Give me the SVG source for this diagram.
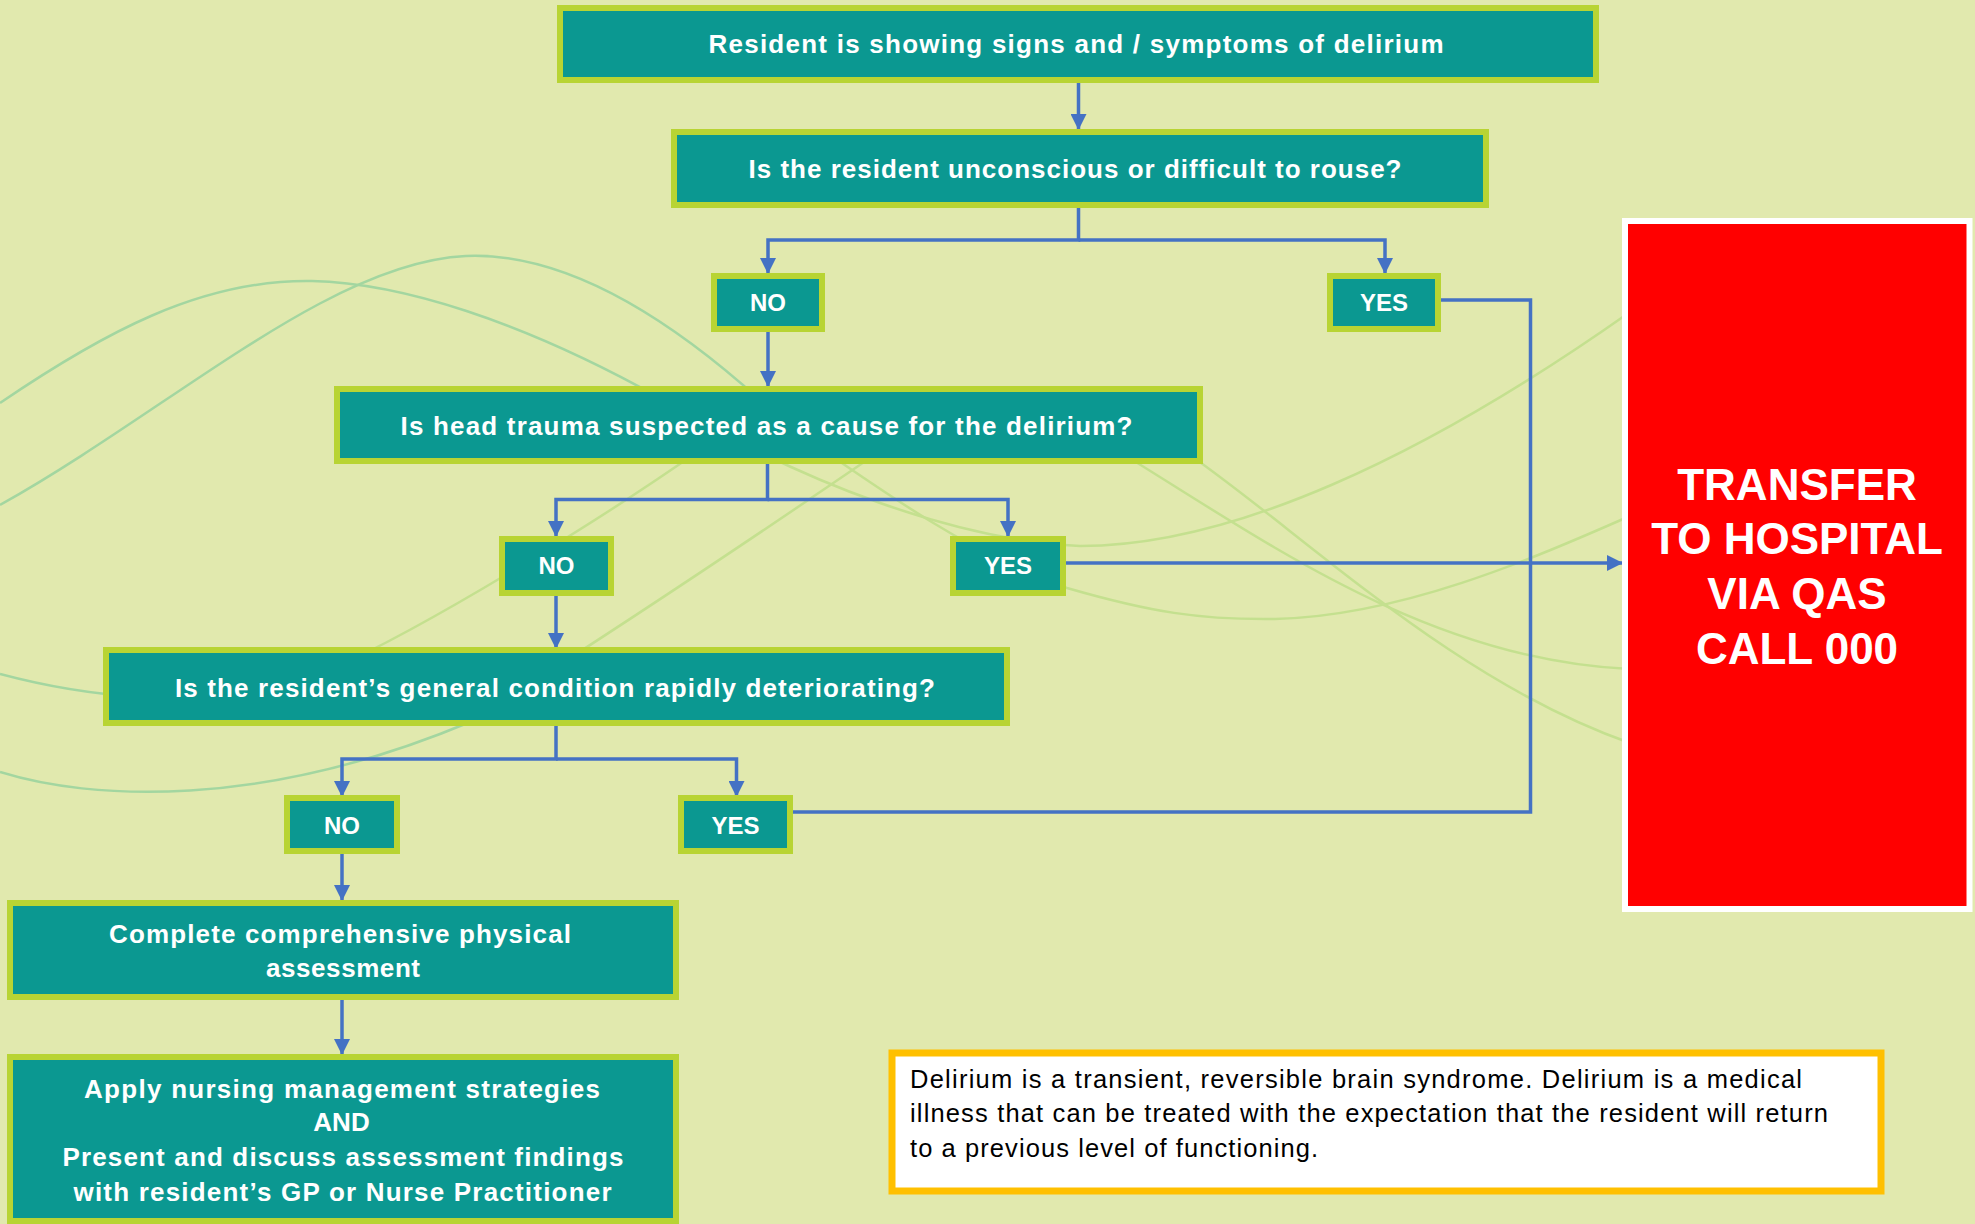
<svg xmlns="http://www.w3.org/2000/svg" width="1975" height="1224" viewBox="0 0 1975 1224">
  <defs>
    <marker id="arrow" markerUnits="userSpaceOnUse" markerWidth="16" markerHeight="16" refX="16" refY="8" orient="auto">
      <path d="M0,0 L16,8 L0,16 z" fill="#4472c4"/>
    </marker>
    <style>
      .bg { fill: #e1e9ae; }
      .wave-a { fill: none; stroke: #a3d6a0; stroke-width: 2.5; }
      .wave-b { fill: none; stroke: #c4e08f; stroke-width: 2.5; }
      .box { fill: #0b9891; stroke: #b8d433; stroke-width: 6; }
      .lbl { font-family: "Liberation Sans", Arial, sans-serif; font-weight: bold; fill: #ffffff; text-anchor: middle; }
      .big { font-size: 26px; }
      .yn { font-size: 24px; }
      .conn { fill: none; stroke: #4472c4; stroke-width: 3.5; }
      .urgent { fill: #ff0000; stroke: #ffffff; stroke-width: 6; }
      .urgent-text { font-family: "Liberation Sans", Arial, sans-serif; font-weight: bold; font-size: 44px; fill: #ffffff; text-anchor: middle; }
      .note { fill: #ffffff; stroke: #ffc000; stroke-width: 7; }
      .note-text { font-family: "Liberation Sans", Arial, sans-serif; font-size: 25.5px; fill: #000000; }
    </style>
  </defs>

  <rect class="bg" x="0" y="0" width="1975" height="1224"/>

  <!-- decorative background waves -->
  <g id="waves">
    <path class="wave-a" d="M0,403 C100,335 200,279 312,281 C400,283 520,320 660,398"/>
    <path class="wave-a" d="M0,505 C170,410 330,262 466,256 C560,252 660,310 760,400"/>
    <path class="wave-a" d="M0,674 C60,690 200,720 330,670"/>
    <path class="wave-b" d="M330,670 C430,625 600,520 700,450"/>
    <path class="wave-a" d="M0,772 C90,800 260,810 470,722"/>
    <path class="wave-b" d="M470,722 C600,640 750,540 870,458"/>
    <path class="wave-b" d="M700,420 C800,478 950,540 1080,546 C1230,546 1420,460 1630,312"/>
    <path class="wave-b" d="M800,434 C880,490 980,560 1067,588 C1150,612 1200,620 1275,619 C1400,616 1530,560 1630,516"/>
    <path class="wave-b" d="M1100,440 C1250,530 1420,660 1630,669"/>
    <path class="wave-b" d="M1180,448 C1300,530 1450,680 1630,743"/>
  </g>

  <!-- connectors -->
  <g id="connectors">
    <path class="conn" d="M1078.5,83 V130" marker-end="url(#arrow)"/>
    <path class="conn" d="M1078.5,208 V240 H768 V274" marker-end="url(#arrow)"/>
    <path class="conn" d="M1078.5,240 H1385 V274" marker-end="url(#arrow)"/>
    <path class="conn" d="M768,332 V387" marker-end="url(#arrow)"/>
    <path class="conn" d="M767.5,464 V499.5 H556 V537" marker-end="url(#arrow)"/>
    <path class="conn" d="M767.5,499.5 H1008 V537" marker-end="url(#arrow)"/>
    <path class="conn" d="M556,596 V649" marker-end="url(#arrow)"/>
    <path class="conn" d="M556,726 V759 H342 V797" marker-end="url(#arrow)"/>
    <path class="conn" d="M556,759 H736.5 V797" marker-end="url(#arrow)"/>
    <path class="conn" d="M342,854 V901" marker-end="url(#arrow)"/>
    <path class="conn" d="M342,1000 V1055" marker-end="url(#arrow)"/>
    <path class="conn" d="M1066,563 H1623" marker-end="url(#arrow)"/>
    <path class="conn" d="M1438,300 H1530.5 V812 H790"/>
  </g>

  <g id="start">
    <rect class="box" x="560" y="8" width="1036" height="72"/>
    <text class="lbl big" x="1076" y="53" textLength="735">Resident is showing signs and / symptoms of delirium</text>
  </g>

  <g id="q-unconscious">
    <rect class="box" x="674" y="132" width="812" height="73"/>
    <text class="lbl big" x="1075" y="178" textLength="653">Is the resident unconscious or difficult to rouse?</text>
  </g>

  <g id="no-1">
    <rect class="box" x="714" y="276" width="108" height="53"/>
    <text class="lbl yn" x="768" y="311">NO</text>
  </g>

  <g id="yes-1">
    <rect class="box" x="1330" y="276" width="108" height="53"/>
    <text class="lbl yn" x="1384" y="311">YES</text>
  </g>

  <g id="q-head-trauma">
    <rect class="box" x="337" y="389" width="863" height="72"/>
    <text class="lbl big" x="766.5" y="435" textLength="732">Is head trauma suspected as a cause for the delirium?</text>
  </g>

  <g id="no-2">
    <rect class="box" x="502" y="539" width="109" height="54"/>
    <text class="lbl yn" x="556.5" y="574">NO</text>
  </g>

  <g id="yes-2">
    <rect class="box" x="953" y="539" width="110" height="54"/>
    <text class="lbl yn" x="1008" y="574">YES</text>
  </g>

  <g id="q-deteriorating">
    <rect class="box" x="106" y="650" width="901" height="73"/>
    <text class="lbl big" x="555" y="697" textLength="760">Is the resident’s general condition rapidly deteriorating?</text>
  </g>

  <g id="no-3">
    <rect class="box" x="287" y="798" width="110" height="53"/>
    <text class="lbl yn" x="342" y="834">NO</text>
  </g>

  <g id="yes-3">
    <rect class="box" x="681" y="798" width="109" height="53"/>
    <text class="lbl yn" x="735.5" y="834">YES</text>
  </g>

  <g id="assessment">
    <rect class="box" x="10" y="903" width="666" height="94"/>
    <text class="lbl big" x="340" y="943" textLength="462">Complete comprehensive physical</text>
    <text class="lbl big" x="343" y="977" textLength="154">assessment</text>
  </g>

  <g id="management">
    <rect class="box" x="10" y="1057" width="666" height="164"/>
    <text class="lbl big" x="342" y="1098" textLength="516">Apply nursing management strategies</text>
    <text class="lbl big" x="341.5" y="1131">AND</text>
    <text class="lbl big" x="343" y="1166" textLength="561">Present and discuss assessment findings</text>
    <text class="lbl big" x="342.5" y="1201" textLength="538">with resident’s GP or Nurse Practitioner</text>
  </g>

  <g id="transfer">
    <rect class="urgent" x="1625" y="221" width="344.5" height="688"/>
    <text class="urgent-text" x="1797" y="500">TRANSFER</text>
    <text class="urgent-text" x="1797" y="554">TO HOSPITAL</text>
    <text class="urgent-text" x="1797" y="609">VIA QAS</text>
    <text class="urgent-text" x="1797" y="664">CALL 000</text>
  </g>

  <g id="delirium-note">
    <rect class="note" x="892" y="1053" width="989" height="138"/>
    <text class="note-text" x="910" y="1088" textLength="892">Delirium is a transient, reversible brain syndrome. Delirium is a medical</text>
    <text class="note-text" x="910" y="1122" textLength="918">illness that can be treated with the expectation that the resident will return</text>
    <text class="note-text" x="910" y="1157" textLength="408">to a previous level of functioning.</text>
  </g>
</svg>
